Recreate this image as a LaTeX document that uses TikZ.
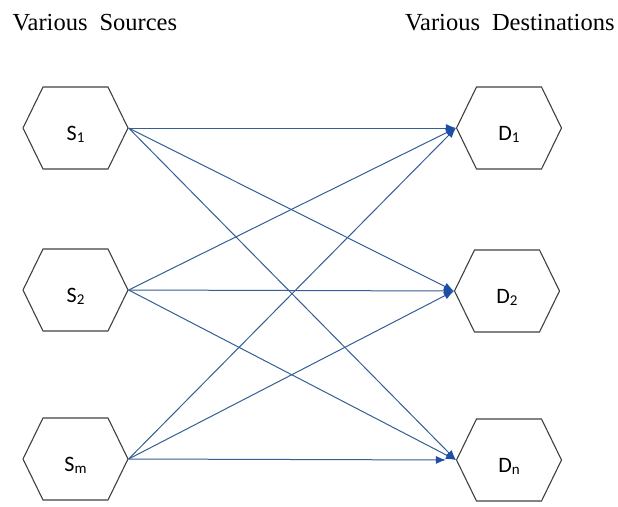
\documentclass[tikz,border=0pt]{standalone}
\usepackage{fontspec}
\setmainfont{Liberation Serif}
\newfontfamily\hexfont{Carlito}
\usepackage{tikz}
\usetikzlibrary{shapes}
\usetikzlibrary{arrows.meta}
\definecolor{linkblue}{RGB}{52,94,148}
\definecolor{tipblue}{RGB}{30,78,165}
\definecolor{hexgray}{RGB}{64,64,64}
\newcommand{\lsub}[1]{\raisebox{-2.5pt}{\fontsize{15}{15}\selectfont #1}}
\newcommand{\hexlabel}[2]{\raisebox{-12pt}[0pt][0pt]{#1\lsub{#2}}}
\tikzset{
  hexbox/.style={signal, signal to=east and west, signal pointer angle=128, draw=hexgray, line width=1.1pt, minimum width=105pt, minimum height=82pt, inner sep=0pt, font=\hexfont\fontsize{22}{22}\selectfont},
  flow/.style={linkblue, line width=1pt, -{Latex[length=10pt,width=8pt,color=tipblue]}},
  title/.style={anchor=base west, inner sep=0pt, text=black, font=\fontsize{24.5}{24.5}\selectfont}
}
\begin{document}
\begin{tikzpicture}
\useasboundingbox (0pt,0pt) rectangle (618pt,-506pt);
\node[title] (src) at (12.5pt,-30pt) {Various\hspace{12pt}Sources};
\node[title] (dst) at (405pt,-30pt) {Various\hspace{12pt}Destinations};
\node[hexbox] (s1) at (75.5pt,-128pt) {\hexlabel{S}{1}};
\node[hexbox] (s2) at (75.5pt,-290pt) {\hexlabel{S}{2}};
\node[hexbox] (sm) at (75.5pt,-459pt) {\hexlabel{S}{m}};
\node[hexbox] (d1) at (509pt,-128pt) {\hexlabel{D}{1}};
\node[hexbox] (d2) at (507pt,-291pt) {\hexlabel{D}{2}};
\node[hexbox] (dn) at (509pt,-460pt) {\hexlabel{D}{n}};
\draw [flow] (s1.east) -- (d1.west);
\draw [flow] (s1.east) -- (d2.west);
\draw [flow] (s1.east) -- (dn.west);
\draw [flow] (s2.east) -- (d1.west);
\draw [flow] (s2.east) -- (d2.west);
\draw [flow] (s2.east) -- (dn.west);
\draw [flow] (sm.east) -- (d1.west);
\draw [flow] (sm.east) -- (d2.west);
\draw [flow, shorten >=10pt] (sm.east) -- (dn.west);
\end{tikzpicture}
\end{document}
